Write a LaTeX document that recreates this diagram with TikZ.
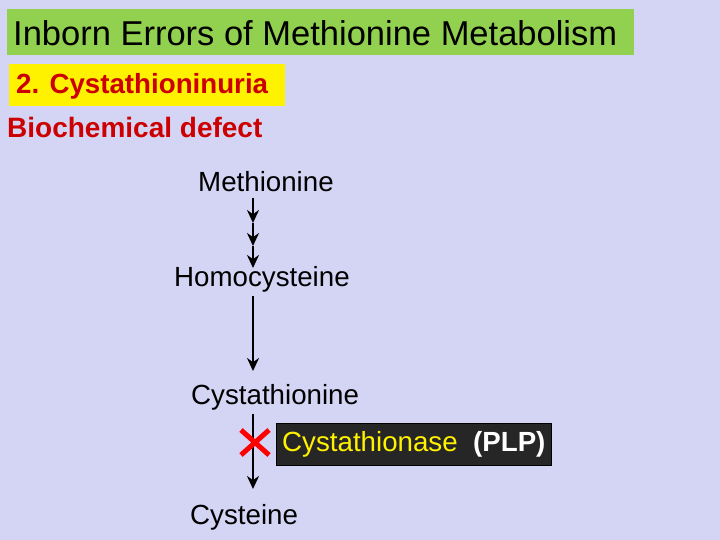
\documentclass[tikz,border=0pt]{standalone}
\usepackage{fontspec}
\usetikzlibrary{arrows.meta}
\setmainfont{Liberation Sans}
\begin{document}
\begin{tikzpicture}[x=1pt,y=-1pt,
  lbl/.style={inner sep=0pt,anchor=west,font=\fontsize{27.7}{32}\selectfont},
  arr/.style={-{Stealth[length=13pt,width=12pt]},line width=2.6pt}]
\fill[fill={rgb,255:red,212;green,212;blue,244}] (0,0) rectangle (720,540);
\useasboundingbox (0,0) rectangle (720,540);
\fill[fill={rgb,255:red,146;green,208;blue,80}] (7,9) rectangle (634,55);
\node[lbl,font=\fontsize{34.5}{40}\selectfont] (title) at (13,33) {Inborn Errors of Methionine Metabolism};
\fill[yellow] (9,64) rectangle (285,106);
\node[lbl,font=\bfseries\fontsize{27.7}{32}\selectfont,text={rgb,255:red,204;green,0;blue,0}] (sub) at (16,86) {2. Cystathioninuria};
\node[lbl,font=\bfseries\fontsize{28}{32}\selectfont,text={rgb,255:red,204;green,0;blue,0}] (bd) at (7,127) {Biochemical defect};
\node[lbl] (met) at (198,182) {Methionine};
\node[lbl] (hom) at (174,279) {Homocysteine};
\node[lbl] (cys) at (191,397) {Cystathionine};
\node[lbl] (cyt) at (190,517) {Cysteine};
\coordinate (a1) at (253,198);
\coordinate (a2) at (253,223);
\coordinate (a3) at (253,246);
\coordinate (a4) at (253,268);
\draw[arr] (a1) -- (a2);
\draw[arr] (a2) -- (a3);
\draw[arr] (a3) -- (a4);
\coordinate (b1) at (253,296);
\coordinate (b2) at (253,371);
\draw[arr] (b1) -- (b2);
\coordinate (c1) at (253,414);
\coordinate (c2) at (253,489);
\draw[arr] (c1) -- (c2);
\draw[red,line width=5pt] (241,430) -- (269,455) (241,455) -- (269,430);
\node[fill={rgb,255:red,38;green,38;blue,38},draw=black,minimum height=42pt,inner xsep=6pt,anchor=west,font=\fontsize{27.7}{32}\selectfont] (enz) at (276,444)
  {\textcolor{yellow}{Cystathionase}\ \ \textcolor{white}{\bfseries(PLP)}};
\end{tikzpicture}
\end{document}
